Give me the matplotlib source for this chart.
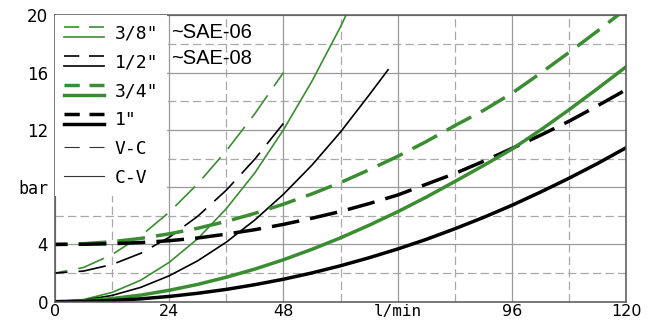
import matplotlib
matplotlib.use('Agg')
import matplotlib.pyplot as plt
from matplotlib.lines import Line2D
from matplotlib.legend_handler import HandlerBase

plt.rcParams['lines.scale_dashes'] = False
plt.rcParams['font.family'] = 'DejaVu Sans'

green = '#3a8d30'

# flow in l/min, pressure drop in bar
flow = [0, 6, 12, 18, 24, 30, 36, 42, 48, 54, 60, 66, 72, 78, 84, 90, 96, 102, 108, 114, 120]
p34_vc = [4.0, 4.05, 4.19, 4.42, 4.74, 5.13, 5.61, 6.17, 6.81, 7.53, 8.32, 9.21, 10.15, 11.18,
          12.29, 13.35, 14.55, 15.95, 17.4, 18.9, 20.45]
p34_cv = [0, 0.06, 0.22, 0.46, 0.8, 1.21, 1.71, 2.28, 2.93, 3.66, 4.46, 5.34, 6.28, 7.3,
          8.39, 9.5, 10.65, 11.98, 13.4, 14.88, 16.4]
p1_vc = [4.0, 4.01, 4.05, 4.13, 4.26, 4.45, 4.72, 5.03, 5.4, 5.83, 6.3, 6.85, 7.45, 8.2,
         8.95, 9.8, 10.7, 11.62, 12.6, 13.68, 14.8]
p1_cv = [0, 0.02, 0.085, 0.2, 0.37, 0.59, 0.86, 1.19, 1.57, 2.01, 2.51, 3.07, 3.68, 4.35,
         5.09, 5.88, 6.73, 7.65, 8.62, 9.65, 10.75]

flow_38_cv = [0, 6, 12, 18, 24, 30, 36, 42, 48, 54, 60, 62]
p38_cv = [0, 0.15, 0.65, 1.5, 2.75, 4.4, 6.5, 9.0, 12.0, 15.4, 19.2, 20.6]
flow_12_cv = [0, 6, 12, 18, 24, 30, 36, 42, 48, 54, 60, 66, 70]
p12_cv = [0, 0.11, 0.44, 1.0, 1.81, 2.86, 4.16, 5.71, 7.5, 9.54, 11.85, 14.43, 16.2]
flow_small_vc = [0, 6, 12, 18, 24, 30, 36, 42, 48]
p38_vc = [2.0, 2.39, 3.29, 4.59, 6.25, 8.24, 10.54, 13.13, 16.0]
p12_vc = [2.0, 2.14, 2.6, 3.38, 4.5, 5.97, 7.79, 9.96, 12.45]

hoses = ['3/8"', '1/2"', '3/4"', '1"']
sae = ['~SAE-06', '~SAE-08']
xticks = [0, 24, 48, 72, 96, 120]
xlabels = ['0', '24', '48', 'l/min', '96', '120']
yticks = [0, 4, 8, 12, 16, 20]
ylabels = ['0', '4', 'bar', '12', '16', '20']

thin, thick = 1.2, 2.5
dash = (11, (20, 8))


class TwoLine(HandlerBase):
    # dashed line above a solid one
    def create_artists(self, legend, orig, xd, yd, w, h, fontsize, trans):
        c, lw = orig.get_color(), orig.get_linewidth()
        y0 = h / 2 - yd
        top = Line2D([-xd, -xd + w], [y0 + 3.6] * 2, color=c, lw=lw,
                     linestyle=(0, (11, 7)), transform=trans)
        bot = Line2D([-xd, -xd + w], [y0 - 3.6] * 2, color=c, lw=lw, transform=trans)
        return [top, bot]


fig = plt.figure(figsize=(6.58, 3.23), dpi=100)
ax = fig.add_axes([0.0836, 0.0659, 0.8678, 0.8867])

ax.plot(flow_small_vc, p38_vc, color=green, lw=thin, ls=dash)
ax.plot(flow_small_vc, p12_vc, color='black', lw=thin, ls=dash)
ax.plot(flow_38_cv, p38_cv, color=green, lw=thin)
ax.plot(flow_12_cv, p12_cv, color='black', lw=thin)
ax.plot(flow, p34_vc, color=green, lw=thick, ls=dash)
ax.plot(flow, p1_vc, color='black', lw=thick, ls=dash)
ax.plot(flow, p34_cv, color=green, lw=thick)
ax.plot(flow, p1_cv, color='black', lw=thick)

ax.set_xlim(0, 120)
ax.set_ylim(0, 20)
ax.set_xticks(xticks, xlabels)
ax.set_yticks(yticks, ylabels)
ax.set_xticks([12, 36, 60, 84, 108], minor=True)
ax.set_yticks([2, 6, 10, 14, 18], minor=True)
ax.tick_params(which='both', length=0, labelsize=12)
ax.tick_params(axis='y', pad=5)
ax.tick_params(axis='x', pad=1.5, labelsize=11.5)
ax.get_xticklabels()[3].set_fontfamily('DejaVu Sans Mono')
ax.get_yticklabels()[2].set_fontfamily('DejaVu Sans Mono')

ax.grid(which='major', color='#9a9a9a', lw=0.9, ls='-')
ax.grid(which='minor', color='#a8a8a8', lw=0.9, ls=(0, (6, 3)))
ax.set_axisbelow(True)
for s in ax.spines.values():
    s.set_color('#555555')
    s.set_linewidth(1.1)

handles = [Line2D([], [], color=green, lw=thin), Line2D([], [], color='black', lw=thin),
           Line2D([], [], color=green, lw=thick), Line2D([], [], color='black', lw=thick),
           Line2D([], [], color='#333333', lw=0.8, ls=(0, (11, 7))),
           Line2D([], [], color='#333333', lw=0.8)]
hmap = {h: TwoLine() for h in handles[:4]}
leg = ax.legend(handles, hoses + ['V-C', 'C-V'], loc='upper left', handler_map=hmap,
                prop={'family': 'DejaVu Sans Mono', 'size': 13}, borderaxespad=0,
                borderpad=0.5, labelspacing=0.6, handlelength=2.2, handletextpad=0.6,
                frameon=True, fancybox=False, framealpha=1, facecolor='white',
                edgecolor='none')
leg.set_zorder(5)

for lab, yv in zip(sae, [18.83, 16.95]):
    ax.text(24.4, yv, lab, ha='left', va='center', fontsize=14.5,
            family='Liberation Sans', zorder=6)

fig.savefig('out.png', dpi=100)
